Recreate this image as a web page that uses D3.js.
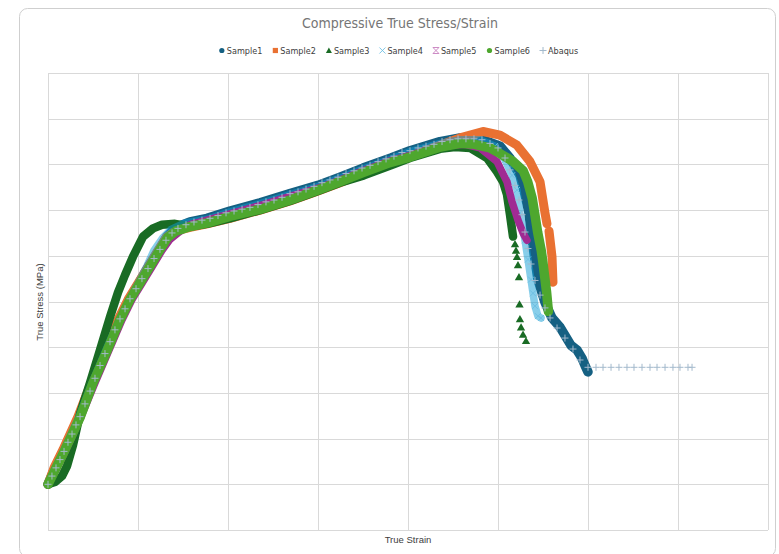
<!DOCTYPE html>
<html><head><meta charset="utf-8">
<script src="https://cdn.jsdelivr.net/npm/d3@7"></script>
<style>html,body{margin:0;padding:0;background:#fff;}svg{display:block;}</style>
</head><body>
<svg id="c" width="779" height="554"></svg>
<script>
const chartTitle = "Compressive True Stress/Strain";
const xTitle = "True Strain";
const yTitle = "True Stress (MPa)";
const seriesNames = ["Sample1","Sample2","Sample3","Sample4","Sample5","Sample6","Abaqus"];
const seriesColors = ["#156082","#E97132","#196B24","#0F9ED5","#A02B93","#4EA72E","#a3b9cc"];
const strainTicks = [0,0.1,0.2,0.3,0.4,0.5,0.6,0.7,0.8];
const stressTicks = [-50,0,50,100,150,200,250,300,350,400,450];

const sample1 = [[0,0],[.0078,18],[.0178,38],[.0344,74],[.0489,111],[.0644,147],[.0789,180],[.09,202],[.1011,220],[.1122,239],[.1233,256],[.1322,271],[.1422,281],[.1578,287],[.1767,291],[.2022,299],[.2356,308],[.2689,318],[.3,327],[.3244,336],[.35,346],[.3811,357],[.4022,365],[.4356,375],[.4578,379],[.48,378],[.5022,370],[.5133,357],[.5244,338],[.53,317],[.5344,297],[.5389,260],[.5444,224],[.5522,199],[.56,182],[.5689,172],[.5756,161],[.5811,152],[.5878,147],[.5933,138],[.5967,130],[.6,123]];
const sample2 = [[0,0],[.0067,18],[.0167,38],[.0333,74],[.0478,111],[.0633,147],[.0778,180],[.0889,202],[.1,220],[.1111,238],[.1222,256],[.1311,270],[.1411,277],[.1578,281],[.1767,285],[.2022,291],[.2356,300],[.2689,310],[.3,321],[.3244,330],[.35,340],[.38,352],[.4022,359],[.4356,371],[.4578,379],[.4833,386],[.5022,382],[.5211,371],[.5356,353],[.5467,331],[.5522,297],[.5544,285],null,[.5567,277],[.56,249],[.5611,221]];
const sample3 = [[0,0],[.0078,2.5],[.0156,9],[.0211,20],[.0278,43],[.0356,77],[.0467,111],[.0578,147],[.0689,183],[.0778,210],[.0856,229],[.0944,249],[.1056,271],[.1167,280],[.1267,284],[.1411,285],[.1578,282],[.1767,285],[.2022,291],[.2356,300],[.2689,310],[.3,321],[.3244,330],[.3511,338],[.3811,349],[.4022,357],[.4356,367],[.4522,369],[.4689,368],[.4878,357],[.4989,342],[.5056,331],[.51,317],[.5133,295],[.5167,271]];
const sample3Tail = [[.5189,262],[.52,255],[.5211,248],[.5222,239],[.5233,226],[.5239,196],[.5244,180],[.5256,171],[.5278,163],[.5311,156]];
const sample4 = [[0,0],[.0078,18],[.0178,38],[.0344,74],[.0489,111],[.0644,147],[.0789,180],[.09,202],[.1,220],[.11,239],[.1178,256],[.1278,270],[.1367,279],[.1522,286],[.1767,290],[.2022,298],[.2356,307],[.2689,317],[.3,326],[.3244,335],[.35,345],[.3811,356],[.4022,364],[.4356,373],[.4578,377],[.48,377],[.4967,370],[.5078,355],[.5156,338],[.5211,322],[.5244,297],[.53,267],[.5333,246],[.5367,224],[.5389,209],[.5411,195],[.5444,184],[.5478,182]];
const sample5 = [[0,0],[.01,18],[.02,38],[.0367,74],[.0522,111],[.0678,147],[.0822,180],[.0933,202],[.1044,220],[.1156,238],[.1267,256],[.1356,268],[.1456,276],[.1578,284],[.1767,289],[.2022,296],[.2356,305],[.2689,315],[.3,324],[.3244,333],[.35,343],[.38,354],[.4022,360],[.4356,370],[.4633,372],[.48,368],[.4989,353],[.51,331],[.5156,309],[.5222,289],[.5278,275],[.5322,267]];
const sample6 = [[0,0],[.009,18],[.019,38],[.036,74],[.05,111],[.066,147],[.08,180],[.091,202],[.102,220],[.113,238],[.124,256],[.133,270],[.142,277],[.158,282],[.177,286],[.202,293],[.236,301],[.269,311],[.3,322],[.324,331],[.35,341],[.38,352],[.402,358],[.436,369],[.458,373],[.474,372],[.491,368],[.502,362],[.517,353],[.528,343],[.533,331],[.538,313],[.541,295],[.544,276],[.548,256],[.55,242],[.552,226],[.554,210],[.556,189]];
const abaqus = [[0,0],[.0044,9],[.0089,18],[.0133,27],[.0178,36],[.0222,46],[.0267,55],[.0311,65],[.0356,74],[.0411,88],[.0467,102],[.0522,116],[.0578,130],[.0633,143],[.0689,156],[.0744,169],[.08,181],[.0856,192],[.0911,203],[.0978,214],[.1044,225],[.1111,236],[.1178,247],[.1244,257],[.1311,267],[.1378,275],[.1444,280],[.1533,284],[.1622,287],[.1711,289],[.18,291],[.1889,294],[.1978,297],[.2067,299],[.2156,301],[.2244,303],[.2333,306],[.2422,309],[.2511,311],[.26,314],[.2689,318],[.2778,320],[.2867,323],[.2956,326],[.3044,330],[.3133,333],[.3222,336],[.3311,340],[.34,343],[.3489,346],[.3578,349],[.3667,353],[.3756,356],[.3844,359],[.3933,363],[.4022,365],[.4111,368],[.42,370],[.4289,372],[.4378,375],[.4467,377],[.4556,378],[.4644,378],[.4733,378],[.4822,377],[.4911,373],[.5,368],[.5078,357],[.5133,344],[.5189,327],[.5233,311],[.5267,295],[.53,276],[.5333,258],[.5367,241],[.5411,223],[.5467,207],[.5522,193],[.5578,182],[.5656,171],[.5744,160],[.5833,148],[.5911,136],[.6,128],[.6089,128],[.6167,128],[.6256,128],[.6344,128],[.6433,128],[.6511,128],[.66,128],[.6689,128],[.6767,128],[.6856,128],[.6944,128],[.7022,128],[.7111,128],[.7156,128]];

const svg = d3.select("#c");
const plot = {left:48, right:768, top:73, bottom:530};
const x = d3.scaleLinear().domain([0,0.8]).range([plot.left, plot.right]);
const y = d3.scaleLinear().domain([-50,450]).range([plot.bottom, plot.top]);

// outer frame
svg.append("rect").attr("x",19.5).attr("y",8.5).attr("width",756).attr("height",548)
  .attr("rx",8).attr("fill","#fff").attr("stroke","#cfcfcf").attr("stroke-width",1);

// grid
const gx = svg.append("g").attr("transform",`translate(0,${plot.bottom})`)
  .call(d3.axisBottom(x).tickValues(strainTicks).tickSize(-(plot.bottom-plot.top)).tickFormat(""));
const gy = svg.append("g").attr("transform",`translate(${plot.left},0)`)
  .call(d3.axisLeft(y).tickValues(stressTicks).tickSize(-(plot.right-plot.left)).tickFormat(""));
[gx,gy].forEach(g=>{
  g.select(".domain").remove();
  g.selectAll(".tick line").attr("stroke","#d9d9d9").attr("stroke-width",1).attr("shape-rendering","crispEdges");
});

const line = d3.line().defined(d=>d!==null).x(d=>x(d[0])).y(d=>y(d[1])).curve(d3.curveLinear);

function band(data, color, w, op){
  svg.append("path").datum(data).attr("d",line).attr("fill","none")
    .attr("stroke",color).attr("stroke-width",w).attr("stroke-linejoin","round")
    .attr("stroke-linecap","round").attr("opacity",op||1);
}
band(sample1, seriesColors[0], 9.5);
band(sample2, seriesColors[1], 9);
band(sample3, seriesColors[2], 8.5);
svg.append("g").selectAll("path").data(sample3Tail).join("path")
  .attr("d", d3.symbol().type(d3.symbolTriangle).size(30))
  .attr("transform", d=>`translate(${x(d[0])},${y(d[1])})`).attr("fill",seriesColors[2]);
band(sample4, seriesColors[3], 7.5, 0.5);
svg.append("g").selectAll("path").data(sample4.slice(-12)).join("path")
  .attr("d", "M-3,-3L3,3M3,-3L-3,3")
  .attr("transform", d=>`translate(${x(d[0])},${y(d[1])})`).attr("fill","none")
  .attr("stroke","#6fc0e3").attr("stroke-width",1);
band(sample5, seriesColors[4], 7.5);
band(sample6, seriesColors[5], 9.5);
svg.append("g").selectAll("path").data(abaqus).join("path")
  .attr("d", "M-3.5,0H3.5M0,-3.5V3.5")
  .attr("transform", d=>`translate(${x(d[0])},${y(d[1])})`).attr("fill","none")
  .attr("stroke",seriesColors[6]).attr("stroke-width",1);

const fam = "'Liberation Sans Narrow','DejaVu Sans Condensed',Arial,sans-serif";
svg.append("text").attr("x",400).attr("y",28).attr("text-anchor","middle")
  .attr("font-family",fam).attr("font-size",14).attr("fill","#757575").text(chartTitle);

svg.append("text").attr("x",408).attr("y",543).attr("text-anchor","middle")
  .attr("font-family","'Liberation Sans',Arial,sans-serif").attr("font-size",9.5).attr("fill","#404040").text(xTitle);
svg.append("text").attr("transform","translate(43,302) rotate(-90)").attr("text-anchor","middle")
  .attr("font-family","'Liberation Sans',Arial,sans-serif").attr("font-size",9.5).attr("fill","#404040").text(yTitle);

// legend
const lg = svg.append("g");
const symTypes = ["circle","square","triangle","x","star","circle","plus"];
let cx = 0;
seriesNames.forEach((n,i)=>{
  const g = lg.append("g");
  const t = g.append("text").attr("x",cx+5).attr("y",53.5).attr("font-family",fam)
    .attr("font-size",9).attr("fill","#404040").text(n);
  const sx = cx, c = seriesColors[i], s = symTypes[i];
  if(s==="circle") g.append("circle").attr("cx",sx).attr("cy",50.5).attr("r",2.6).attr("fill",c);
  else if(s==="square") g.append("rect").attr("x",sx-2.6).attr("y",47.9).attr("width",5.2).attr("height",5.2).attr("fill",c);
  else if(s==="triangle") g.append("path").attr("d",`M${sx},47.6L${sx+3},53L${sx-3},53Z`).attr("fill",c);
  else if(s==="x") g.append("path").attr("d",`M${sx-3},47.5L${sx+3},53.5M${sx+3},47.5L${sx-3},53.5`).attr("stroke","#6fc0e3").attr("stroke-width",0.9);
  else if(s==="star") g.append("path").attr("d",`M${sx-3},47.5L${sx+3},53.5M${sx+3},47.5L${sx-3},53.5M${sx-3},47.5H${sx+3}M${sx-3},53.5H${sx+3}`).attr("stroke","#c77fbe").attr("stroke-width",0.9);
  else g.append("path").attr("d",`M${sx-3.5},50.5H${sx+3.5}M${sx},47V54`).attr("stroke",c).attr("stroke-width",1);
  cx += 5 + t.node().getComputedTextLength() + 13;
});
const lw = cx - 13;
lg.attr("transform",`translate(${398 - lw/2 + 2},0)`);
</script>
</body></html>
